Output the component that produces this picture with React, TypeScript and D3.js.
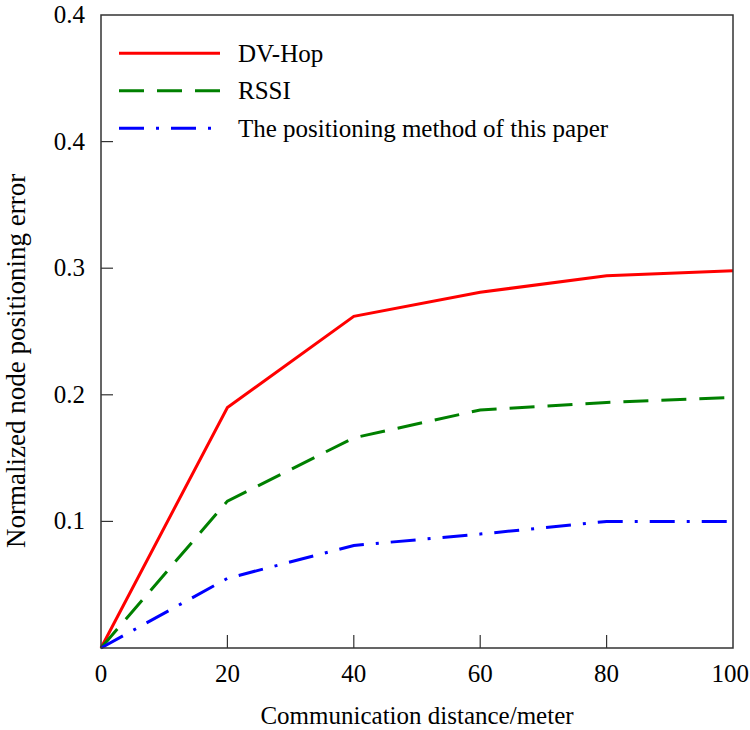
import { useEffect, useRef } from 'react';
import * as d3 from 'd3';

const distances = [0, 20, 40, 60, 80, 100];
const dvHop = [0, 0.19, 0.262, 0.281, 0.294, 0.298];
const rssi = [0, 0.116, 0.166, 0.188, 0.194, 0.198];
const proposed = [0, 0.055, 0.081, 0.09, 0.1, 0.1];

const xTicks = [0, 20, 40, 60, 80, 100];
const yTicks = [0.1, 0.2, 0.3, 0.4, 0.5];
const yTickLabels = ['0.1', '0.2', '0.3', '0.4', '0.4'];

const seriesNames = ['DV-Hop', 'RSSI', 'The positioning method of this paper'];
const seriesColors = ['#ff0000', '#008000', '#0000ff'];
const seriesDash = ['none', '25,13', '25,12,3,12'];

const FONT = '"Liberation Serif", "Times New Roman", Times, serif';

const App = () => {
  const svgRef = useRef<SVGSVGElement | null>(null);

  useEffect(() => {
    const width = 750;
    const height = 730;
    const margin = { top: 15, right: 17, bottom: 82, left: 101 };

    const svg = d3.select(svgRef.current);
    svg.selectAll('*').remove();
    svg.attr('width', width).attr('height', height);

    const x = d3
      .scaleLinear()
      .domain([0, 100])
      .range([margin.left, width - margin.right]);
    const y = d3
      .scaleLinear()
      .domain([0, 0.5])
      .range([height - margin.bottom, margin.top]);

    const addText = (g: any, txt: string, size = 25) =>
      g
        .append('text')
        .attr('font-family', FONT)
        .attr('font-size', size)
        .attr('fill', '#000')
        .text(txt);

    const series = [dvHop, rssi, proposed];

    // 曲線
    const line = d3
      .line<number>()
      .x((_, i) => x(distances[i]))
      .y((d) => y(d));

    series.forEach((s, i) => {
      svg
        .append('path')
        .datum(s)
        .attr('d', line)
        .attr('fill', 'none')
        .attr('stroke', seriesColors[i])
        .attr('stroke-width', 3)
        .attr('stroke-dasharray', seriesDash[i]);
    });

    // 外框
    svg
      .append('rect')
      .attr('x', x(0))
      .attr('y', y(0.5))
      .attr('width', x(100) - x(0))
      .attr('height', y(0) - y(0.5))
      .attr('fill', 'none')
      .attr('stroke', '#333')
      .attr('stroke-width', 1.5);

    // x 軸刻度
    const xg = svg.append('g');
    xTicks.forEach((t, i) => {
      if (t > 0 && t < 100) {
        xg.append('line')
          .attr('x1', x(t))
          .attr('x2', x(t))
          .attr('y1', y(0))
          .attr('y2', y(0) - 13)
          .attr('stroke', '#333')
          .attr('stroke-width', 1.2);
      }
      const last = i === xTicks.length - 1;
      addText(xg, String(t))
        .attr('x', last ? width - 1 : x(t))
        .attr('y', y(0) + 34)
        .attr('text-anchor', last ? 'end' : 'middle');
    });

    // y 軸刻度
    const yg = svg.append('g');
    yTicks.forEach((t, i) => {
      if (t < 0.5) {
        yg.append('line')
          .attr('x1', x(0))
          .attr('x2', x(0) + 12)
          .attr('y1', y(t))
          .attr('y2', y(t))
          .attr('stroke', '#333')
          .attr('stroke-width', 1.2);
      }
      addText(yg, yTickLabels[i])
        .attr('x', x(0) - 16)
        .attr('y', y(t) + 8)
        .attr('text-anchor', 'end');
    });

    // 軸標題
    addText(svg, 'Normalized node positioning error', 27)
      .attr('transform', 'translate(25,548) rotate(-90)')
      .attr('text-anchor', 'start');

    addText(svg, 'Communication distance/meter')
      .attr('x', (x(0) + x(100)) / 2)
      .attr('y', 724)
      .attr('text-anchor', 'middle');

    // 圖例
    const legend = svg.append('g');
    seriesNames.forEach((name, i) => {
      const ly = 53.3 + i * 37.5;
      legend
        .append('line')
        .attr('x1', 119)
        .attr('x2', 220)
        .attr('y1', ly)
        .attr('y2', ly)
        .attr('stroke', seriesColors[i])
        .attr('stroke-width', 3)
        .attr('stroke-dasharray', seriesDash[i]);
      addText(legend, name)
        .attr('x', 238)
        .attr('y', ly + 8.5);
    });
  }, []);

  return <svg ref={svgRef} style={{ display: 'block', position: 'absolute', left: 0, top: 0 }}></svg>;
};

export default App;
